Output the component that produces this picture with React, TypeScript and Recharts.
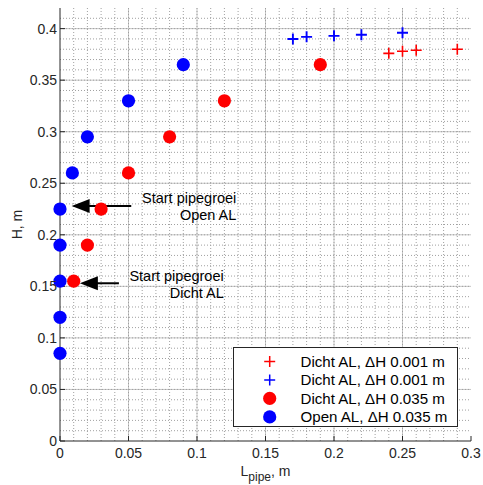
import React from 'react';
import {
  ScatterChart,
  Scatter,
  XAxis,
  YAxis,
  ReferenceLine,
  ReferenceDot,
  Legend,
  Label,
} from 'recharts';

// ---- Data ----
const xTicks = [0, 0.05, 0.1, 0.15, 0.2, 0.25, 0.3];
const xTickLabels = ['0', '0.05', '0.1', '0.15', '0.2', '0.25', '0.3'];
const yTicks = [0, 0.05, 0.1, 0.15, 0.2, 0.25, 0.3, 0.35, 0.4];
const yTickLabels = ['0', '0.05', '0.1', '0.15', '0.2', '0.25', '0.3', '0.35', '0.4'];

const dichtSmallL = [0.24, 0.25, 0.26, 0.29];
const dichtSmallH = [0.376, 0.378, 0.379, 0.38];
const openSmallL = [0.17, 0.18, 0.2, 0.22, 0.25];
const openSmallH = [0.39, 0.392, 0.393, 0.394, 0.396];
const dichtLargeL = [0.01, 0.02, 0.03, 0.05, 0.08, 0.12, 0.19];
const dichtLargeH = [0.155, 0.19, 0.225, 0.26, 0.295, 0.33, 0.365];
const openLargeL = [0, 0, 0, 0, 0, 0.009, 0.02, 0.05, 0.09];
const openLargeH = [0.085, 0.12, 0.155, 0.19, 0.225, 0.26, 0.295, 0.33, 0.365];

const legendLabels = [
  'Dicht AL, \u0394H 0.001 m',
  'Dicht AL, \u0394H 0.001 m',
  'Dicht AL, \u0394H 0.035 m',
  'Open AL, \u0394H 0.035 m',
];

const annotationText1 = ['Start pipegroei', 'Open AL'];
const annotationText2 = ['Start pipegroei', 'Dicht AL'];
// arrows: [tailL, tipL, H]
const arrow1 = [0.052, 0.0085, 0.228];
const arrow2 = [0.043, 0.0145, 0.153];
// text anchors (right edge L, H of first line)
const text1 = [0.1287, 0.2356];
const text2 = [0.1195, 0.1602];

const xDomain: [number, number] = [0, 0.3];
const yDomain: [number, number] = [0, 0.42];

const zip = (xs: number[], ys: number[]) => xs.map((x, i) => ({ x, y: ys[i] }));

const FONT = '"Liberation Sans", Arial, Helvetica, sans-serif';
const AXIS_COLOR = '#262626';
const RED = '#ff0000';
const BLUE = '#0000ff';
const MAJOR_GRID = '#c6c6c6';
const MINOR_GRID = '#a0a0a0';

// minor grid positions (every 0.01)
const minorX: number[] = [];
for (let i = 1; i < 30; i++) minorX.push(+(i / 100).toFixed(2));
const minorY: number[] = [];
for (let i = 1; i < 42; i++) minorY.push(+(i / 100).toFixed(2));

const Cross = (color: string, sw: number) => (p: any) => {
  const { cx, cy } = p;
  const s = 5.5;
  return (
    <path
      d={`M${cx - s},${cy}H${cx + s}M${cx},${cy - s}V${cy + s}`}
      stroke={color}
      strokeWidth={sw}
      fill="none"
    />
  );
};
const Dot = (color: string) => (p: any) => (
  <circle cx={p.cx} cy={p.cy} r={6.6} fill={color} stroke="none" />
);

const ArrowHead = (p: any) => {
  const { cx, cy } = p;
  const len = 18;
  const hw = 7;
  return <polygon points={`${cx},${cy} ${cx + len},${cy - hw} ${cx + len},${cy + hw}`} fill="#000" />;
};

const TextBlock = (lines: string[], dyPx: number) => (p: any) => {
  const { cx, cy } = p;
  return (
    <g>
      <text x={cx} y={cy} dy={5} textAnchor="end" fontFamily={FONT} fontSize={14.5} fill="#000">
        {lines[0]}
      </text>
      <text x={cx} y={cy + dyPx} dy={5} textAnchor="end" fontFamily={FONT} fontSize={14.5} fill="#000">
        {lines[1]}
      </text>
    </g>
  );
};

const legendStyles = [
  { kind: 'cross', color: RED, sw: 1.5 },
  { kind: 'cross', color: BLUE, sw: 1.5 },
  { kind: 'dot', color: RED },
  { kind: 'dot', color: BLUE },
];

const LegendContent = () => (
  <svg width={224} height={79} style={{ display: 'block' }}>
    {legendLabels.map((lab, i) => {
      const cy = 13.4 + i * 18.5;
      const st = legendStyles[i];
      return (
        <g key={i}>
          {st.kind === 'cross' ? (
            <path
              d={`M${35.7 - 5.5},${cy}H${35.7 + 5.5}M35.7,${cy - 5.5}V${cy + 5.5}`}
              stroke={st.color}
              strokeWidth={st.sw}
            />
          ) : (
            <circle cx={35.7} cy={cy} r={6.6} fill={st.color} />
          )}
          <text x={66.5} y={cy} dy={5.3} fontFamily={FONT} fontSize={15.1} fill="#000">
            {lab}
          </text>
        </g>
      );
    })}
  </svg>
);

const XLabel = (props: any) => {
  const { viewBox } = props;
  const cx = viewBox.x + viewBox.width / 2;
  const y = viewBox.y + 35;
  return (
    <text x={cx} y={y} textAnchor="middle" fontFamily={FONT} fontSize={14} fill={AXIS_COLOR}>
      L
      <tspan fontSize={12} dy={5}>
        pipe
      </tspan>
      <tspan dy={-5}>, m</tspan>
    </text>
  );
};

const YLabel = (props: any) => {
  const { viewBox } = props;
  const cy = viewBox.y + viewBox.height / 2;
  const x = 22;
  return (
    <text
      x={x}
      y={cy}
      textAnchor="middle"
      transform={`rotate(-90, ${x}, ${cy})`}
      fontFamily={FONT}
      fontSize={14}
      fill={AXIS_COLOR}
    >
      H, m
    </text>
  );
};

const tickStyle = { fontFamily: FONT, fontSize: 14, fill: AXIS_COLOR };

const vSeg = (v: number) => [
  { x: v, y: yDomain[0] },
  { x: v, y: yDomain[1] },
];
const hSeg = (v: number) => [
  { x: xDomain[0], y: v },
  { x: xDomain[1], y: v },
];

export default function App() {
  return (
    <div style={{ position: 'absolute', left: 0, top: 0, width: 483, height: 485 }}>
      <ScatterChart width={483} height={485} margin={{ top: 8, right: 12, bottom: 0, left: 0 }}>
        {xTicks.slice(1, -1).map((v) => (
          <ReferenceLine key={'Mx' + v} segment={vSeg(v)} ifOverflow="visible" stroke={MAJOR_GRID} strokeWidth={1} />
        ))}
        {yTicks.slice(1).map((v) => (
          <ReferenceLine key={'My' + v} segment={hSeg(v)} ifOverflow="visible" stroke={MAJOR_GRID} strokeWidth={1} />
        ))}
        {minorX.map((v) => (
          <ReferenceLine
            key={'mx' + v}
            segment={vSeg(v)}
            ifOverflow="visible"
            stroke={MINOR_GRID}
            strokeDasharray="1 2"
            strokeWidth={1}
          />
        ))}
        {minorY.map((v) => (
          <ReferenceLine
            key={'my' + v}
            segment={hSeg(v)}
            ifOverflow="visible"
            stroke={MINOR_GRID}
            strokeDasharray="1 2"
            strokeWidth={1}
          />
        ))}
        <XAxis
          type="number"
          dataKey="x"
          domain={xDomain}
          ticks={xTicks}
          tickFormatter={(v: number) => xTickLabels[xTicks.indexOf(v)] ?? String(v)}
          interval={0}
          height={44}
          tickSize={-5}
          tickMargin={12}
          tick={tickStyle}
          stroke={AXIS_COLOR}
        >
          <Label content={<XLabel />} />
        </XAxis>
        <XAxis
          xAxisId="top"
          orientation="top"
          type="number"
          dataKey="x"
          domain={xDomain}
          ticks={xTicks}
          interval={0}
          height={0}
          tickSize={-5}
          tick={false}
          stroke={AXIS_COLOR}
        />
        <YAxis
          type="number"
          dataKey="y"
          domain={yDomain}
          ticks={yTicks}
          tickFormatter={(v: number) => yTickLabels[yTicks.indexOf(v)] ?? String(v)}
          interval={0}
          width={60}
          tickSize={-5}
          tickMargin={8}
          tick={tickStyle}
          stroke={AXIS_COLOR}
        >
          <Label content={<YLabel />} />
        </YAxis>
        <YAxis
          yAxisId="right"
          orientation="right"
          type="number"
          dataKey="y"
          domain={yDomain}
          ticks={yTicks}
          interval={0}
          width={0}
          tickSize={-5}
          tick={false}
          stroke={AXIS_COLOR}
        />
        <ReferenceLine
          segment={[
            { x: arrow1[0], y: arrow1[2] },
            { x: arrow1[1] + 0.01, y: arrow1[2] },
          ]}
          stroke="#000"
          strokeWidth={2}
        />
        <ReferenceDot x={arrow1[1]} y={arrow1[2]} r={0} shape={ArrowHead} />
        <ReferenceLine
          segment={[
            { x: arrow2[0], y: arrow2[2] },
            { x: arrow2[1] + 0.01, y: arrow2[2] },
          ]}
          stroke="#000"
          strokeWidth={2}
        />
        <ReferenceDot x={arrow2[1]} y={arrow2[2]} r={0} shape={ArrowHead} />
        <ReferenceDot x={text1[0]} y={text1[1]} r={0} shape={TextBlock(annotationText1, 16.7)} />
        <ReferenceDot x={text2[0]} y={text2[1]} r={0} shape={TextBlock(annotationText2, 16.7)} />
        <Scatter
          name={legendLabels[0]}
          data={zip(dichtSmallL, dichtSmallH)}
          fill={RED}
          shape={Cross(RED, 1.6)}
          isAnimationActive={false}
        />
        <Scatter
          name={legendLabels[1]}
          data={zip(openSmallL, openSmallH)}
          fill={BLUE}
          shape={Cross(BLUE, 1.9)}
          isAnimationActive={false}
        />
        <Scatter
          name={legendLabels[2]}
          data={zip(dichtLargeL, dichtLargeH)}
          fill={RED}
          shape={Dot(RED)}
          isAnimationActive={false}
        />
        <Scatter
          name={legendLabels[3]}
          data={zip(openLargeL, openLargeH)}
          fill={BLUE}
          shape={Dot(BLUE)}
          isAnimationActive={false}
        />
        <Legend
          layout="vertical"
          align="center"
          verticalAlign="middle"
          content={<LegendContent />}
          wrapperStyle={{
            position: 'absolute',
            left: 233,
            top: 347,
            width: 225,
            height: 80,
            border: `1.3px solid ${AXIS_COLOR}`,
            background: '#fff',
            boxSizing: 'border-box',
            margin: 0,
            padding: 0,
          }}
        />
      </ScatterChart>
    </div>
  );
}
